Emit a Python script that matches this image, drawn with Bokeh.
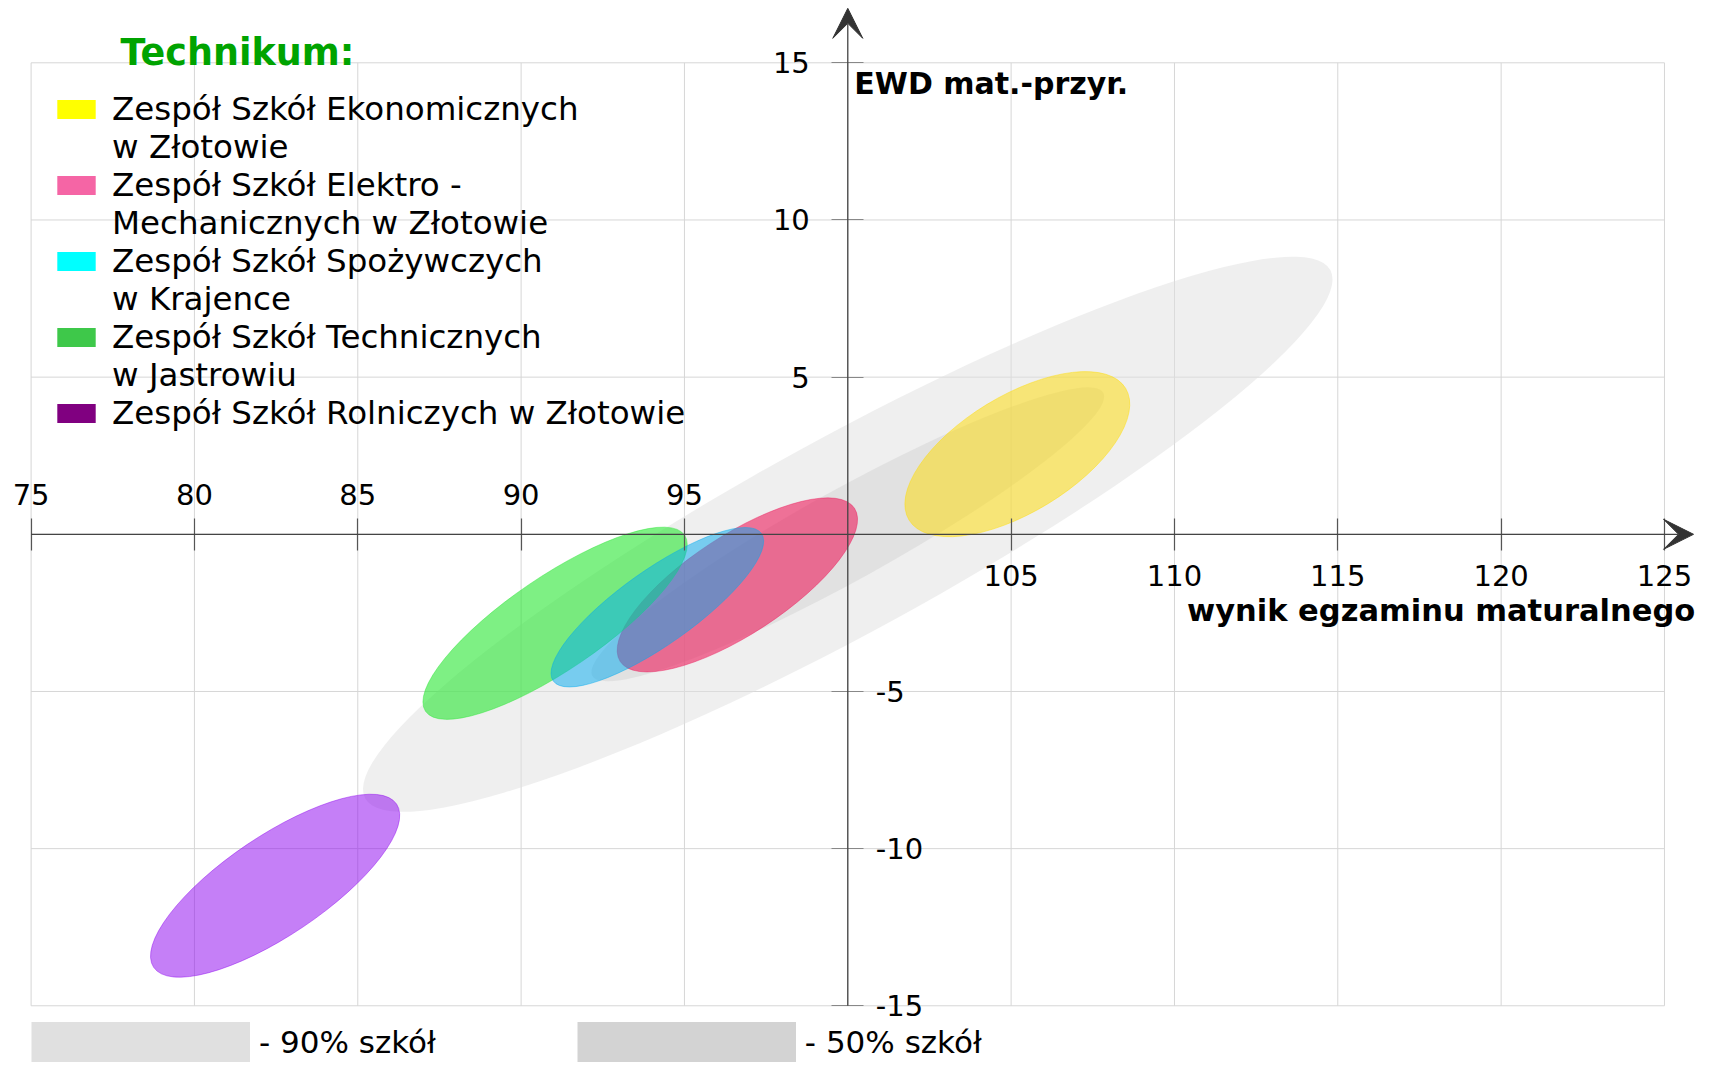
import numpy as np
from bokeh.plotting import figure
from bokeh.models import (Range1d, LinearAxis, FixedTicker, Arrow, VeeHead, Label,
                          Legend, LegendItem, ColumnDataSource, PrintfTickFormatter)
from bokeh.embed import file_html
from bokeh.resources import INLINE

# ---------------- data ----------------
x_ticks = [75, 80, 85, 90, 95, 100, 105, 110, 115, 120, 125]
y_ticks = [-15, -10, -5, 0, 5, 10, 15]
x_ticks_above = [75, 80, 85, 90, 95]
x_ticks_below = [105, 110, 115, 120, 125]
y_ticks_left = [5, 10, 15]
y_ticks_right = [-15, -10, -5]

x_title = "wynik egzaminu maturalnego"
y_title = "EWD mat.-przyr."
legend_title = "Technikum:"

schools = [
    "Zespół Szkół Ekonomicznych\nw Złotowie",
    "Zespół Szkół Elektro -\nMechanicznych w Złotowie",
    "Zespół Szkół Spożywczych\nw Krajence",
    "Zespół Szkół Technicznych\nw Jastrowiu",
    "Zespół Szkół Rolniczych w Złotowie",
]
school_wynik = [105.19, 96.62, 94.17, 91.04, 82.47]
school_ewd = [2.55, -1.61, -2.32, -2.83, -11.18]
school_w = [7.76, 8.57, 7.81, 9.59, 8.96]
school_h = [3.71, 3.14, 2.37, 2.97, 3.17]
school_angle = [31.3, 33.2, 35.3, 34.2, 33.9]
school_fill = ["#ffdc00", "#ec1c5c", "#00aaf0", "#28e632", "#8c00f0"]
school_alpha = [0.5, 0.6, 0.5, 0.6, 0.5]
school_swatch = ["#ffff00", "#f565a5", "#00ffff", "#3ec84a", "#800080"]
draw_order = [0, 1, 3, 2, 4]

bands = ["- 90% szkół", "- 50% szkół"]
band_wynik = [100.0, 100.0]
band_ewd = [0.0, 0.0]
band_w = [33.68, 17.88]
band_h = [6.18, 2.87]
band_angle = [28.7, 29.0]
band_color = ["#e0e0e0", "#d3d3d3"]

# ---------------- figure ----------------
W, H = 1695, 1062
p = figure(width=W, height=H, x_range=Range1d(74.0633, 125.950),
           y_range=Range1d(-16.804, 16.982), output_backend="svg",
           toolbar_location=None, min_border=0, x_axis_type=None, y_axis_type=None)
p.outline_line_color = None
p.background_fill_color = "white"

# grid bounded to the tick extent
nx, ny = len(x_ticks), len(y_ticks)
p.segment(x0=x_ticks, x1=x_ticks, y0=[min(y_ticks)] * nx, y1=[max(y_ticks)] * nx,
          line_color="#d6d6d6", line_width=1)
p.segment(x0=[min(x_ticks)] * ny, x1=[max(x_ticks)] * ny, y0=y_ticks, y1=y_ticks,
          line_color="#d6d6d6", line_width=1)

# background bands
band_src = ColumnDataSource(dict(x=band_wynik, y=band_ewd, w=band_w, h=band_h,
                                 a=list(np.radians(band_angle)), c=band_color))
p.ellipse(x="x", y="y", width="w", height="h", angle="a", source=band_src,
          fill_color="c", fill_alpha=0.5, line_color=None)

# schools
for i in draw_order:
    src = ColumnDataSource(dict(x=[school_wynik[i]], y=[school_ewd[i]], w=[school_w[i]],
                                h=[school_h[i]], a=[np.radians(school_angle[i])]))
    p.ellipse(x="x", y="y", width="w", height="h", angle="a", source=src,
              fill_color=school_fill[i], fill_alpha=school_alpha[i],
              line_color=school_fill[i], line_alpha=0.55, line_width=0.8)

# axes crossing at (100, 0)
def add_axis(ticks, loc, side, tick_color, standoff):
    ax = LinearAxis(ticker=FixedTicker(ticks=ticks), fixed_location=loc,
                    formatter=PrintfTickFormatter(format="%d"))
    ax.axis_line_color = None
    ax.major_tick_in = 16
    ax.major_tick_out = 16
    ax.major_tick_line_color = tick_color
    ax.major_tick_line_width = 1.2
    ax.minor_tick_line_color = None
    ax.major_label_text_font = "DejaVu Sans"
    ax.major_label_text_font_size = "29px"
    ax.major_label_text_color = "black"
    ax.major_label_standoff = standoff
    p.add_layout(ax, side)
    return ax

add_axis(x_ticks_above, 0, "above", "#555555", 13)
add_axis(x_ticks_below, 0, "below", "#555555", 15)
add_axis(y_ticks_left, 100, "left", "#888888", 22)
add_axis(y_ticks_right, 100, "right", "#888888", 12)

p.add_layout(Arrow(end=VeeHead(size=30, fill_color="#333333", line_color="#333333"),
                   x_start=min(x_ticks), y_start=0, x_end=p.x_range.end - 0.06, y_end=0,
                   line_color="#444444", line_width=1.3))
p.add_layout(Arrow(end=VeeHead(size=30, fill_color="#333333", line_color="#333333"),
                   x_start=100, y_start=min(y_ticks), x_end=100, y_end=p.y_range.end - 0.25,
                   line_color="#444444", line_width=1.3))

p.add_layout(Label(x=100.2, y=14.353, text=y_title, text_font="DejaVu Sans",
                   text_font_style="bold", text_font_size="30px", text_color="black",
                   text_baseline="middle"))
p.add_layout(Label(x=125.94, y=-2.414, text=x_title, text_font="DejaVu Sans",
                   text_font_style="bold", text_font_size="30.5px", text_color="black",
                   text_baseline="middle", text_align="right"))
p.add_layout(Label(x=77.736, y=15.325, text=legend_title, text_font="DejaVu Sans",
                   text_font_style="bold", text_font_size="36.5px", text_color="#00a300",
                   text_baseline="middle"))

# legends (one entry per text line, swatch beside the first line)
nan = [np.nan]
items = []
for name, col in zip(schools, school_swatch):
    lines = name.split("\n")
    r = p.quad(left=nan, right=nan, top=nan, bottom=nan, fill_color=col, line_color=None)
    items.append(LegendItem(label=lines[0], renderers=[r]))
    for extra in lines[1:]:
        r2 = p.quad(left=nan, right=nan, top=nan, bottom=nan, fill_alpha=0, line_alpha=0)
        items.append(LegendItem(label=extra, renderers=[r2]))
leg = Legend(items=items, location=(52, 630), glyph_width=48, glyph_height=24,
             label_standoff=12, spacing=0, padding=0, margin=0,
             border_line_color=None, background_fill_alpha=0,
             label_text_font="DejaVu Sans", label_text_font_size="32.5px",
             label_height=37, label_text_color="black")
p.add_layout(leg)

# band legend: wide swatches drawn as thick legend lines filling the whole glyph box
bitems = []
for name, col in zip(bands, band_color):
    r = p.segment(x0=nan, y0=nan, x1=nan, y1=nan, line_color=col, line_width=48,
                  line_cap="butt")
    bitems.append(LegendItem(label=name, renderers=[r]))
leg2 = Legend(items=bitems, location=(31, 0), orientation="horizontal",
              glyph_width=219, glyph_height=40, label_standoff=9, spacing=141,
              padding=0, margin=0, border_line_color=None, background_fill_alpha=0,
              label_text_font="DejaVu Sans", label_text_font_size="31px",
              label_text_color="black")
p.add_layout(leg2)

open("out.html", "w").write(file_html(p, INLINE))
